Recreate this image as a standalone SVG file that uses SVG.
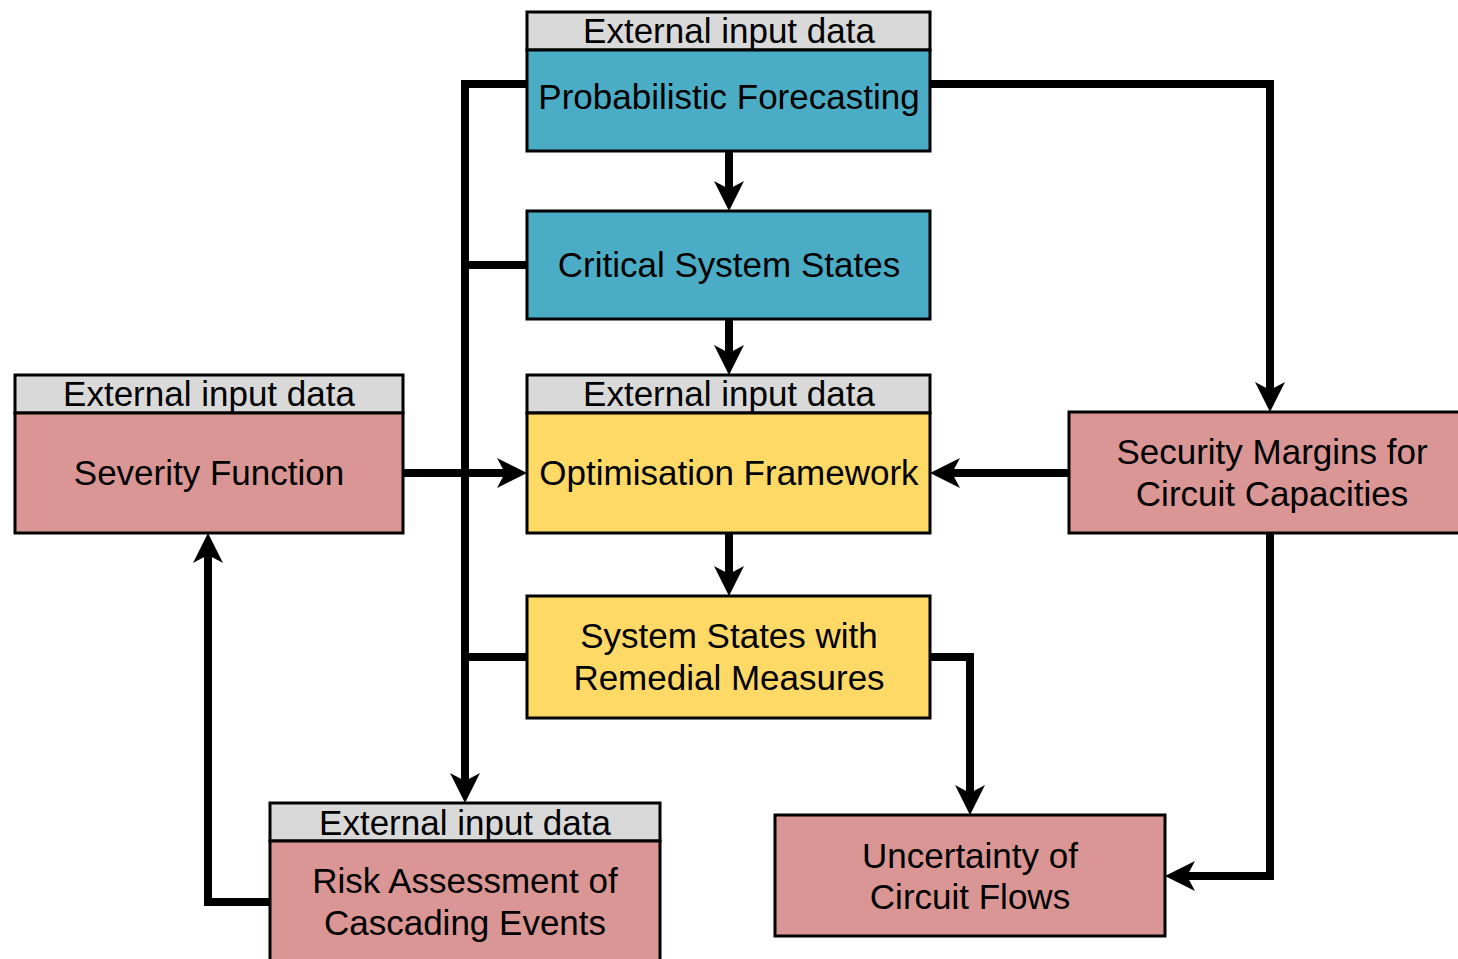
<svg xmlns="http://www.w3.org/2000/svg" width="1458" height="959" viewBox="0 0 1458 959">
  <style>
    .box { stroke: #000; stroke-width: 3; }
    .hdr { fill: #d9d9d9; }
    .blue { fill: #4bacc6; }
    .yellow { fill: #ffd966; }
    .red { fill: #d99694; }
    text { font-family: "Liberation Sans", Arial, sans-serif; font-size: 35px; fill: #000; text-anchor: middle; }
    .wire { fill: none; stroke: #000; stroke-width: 8; stroke-linejoin: miter; stroke-linecap: butt; }
  </style>
  <defs>
    <marker id="arrow" viewBox="0 -15 30 30" markerWidth="30" markerHeight="30" refX="8" refY="0" orient="auto" markerUnits="userSpaceOnUse">
      <path d="M0,-15 L30,0 L0,15 L8,0 Z" fill="#000"/>
    </marker>
  </defs>
  <rect width="1458" height="959" fill="#fff"/>

  <!-- connectors -->
  <g id="connectors">
    <!-- left trunk from forecasting down to risk assessment -->
    <path class="wire" d="M527,84 H465 V781" marker-end="url(#arrow)"/>
    <path class="wire" d="M465,265 H527"/>
    <path class="wire" d="M465,657 H527"/>
    <!-- forecasting to security margins -->
    <path class="wire" d="M930,84 H1270 V390" marker-end="url(#arrow)"/>
    <!-- central chain -->
    <path class="wire" d="M729,151 V189" marker-end="url(#arrow)"/>
    <path class="wire" d="M729,319 V353" marker-end="url(#arrow)"/>
    <path class="wire" d="M729,533 V574" marker-end="url(#arrow)"/>
    <!-- inputs to optimisation -->
    <path class="wire" d="M403,473 H505" marker-end="url(#arrow)"/>
    <path class="wire" d="M1069,473 H952" marker-end="url(#arrow)"/>
    <!-- remedial measures to flow uncertainty -->
    <path class="wire" d="M930,657 H970 V793" marker-end="url(#arrow)"/>
    <!-- security margins to flow uncertainty -->
    <path class="wire" d="M1270,533 V876 H1187" marker-end="url(#arrow)"/>
    <!-- risk assessment back to severity -->
    <path class="wire" d="M270,902 H208 V555" marker-end="url(#arrow)"/>
  </g>

  <!-- Probabilistic Forecasting -->
  <g id="forecasting">
    <rect class="box hdr" x="527" y="12" width="403" height="38"/>
    <rect class="box blue" x="527" y="50" width="403" height="101"/>
    <text x="729" y="43">External input data</text>
    <text x="729" y="109">Probabilistic Forecasting</text>
  </g>

  <!-- Critical System States -->
  <g id="critical-states">
    <rect class="box blue" x="527" y="211" width="403" height="108"/>
    <text x="729" y="277">Critical System States</text>
  </g>

  <!-- Optimisation Framework -->
  <g id="optimisation">
    <rect class="box hdr" x="527" y="375" width="403" height="38"/>
    <rect class="box yellow" x="527" y="413" width="403" height="120"/>
    <text x="729" y="406">External input data</text>
    <text x="729" y="485">Optimisation Framework</text>
  </g>

  <!-- System States with Remedial Measures -->
  <g id="remedial-states">
    <rect class="box yellow" x="527" y="596" width="403" height="122"/>
    <text x="729" y="648">System States with</text>
    <text x="729" y="690">Remedial Measures</text>
  </g>

  <!-- Severity Function -->
  <g id="severity">
    <rect class="box hdr" x="15" y="375" width="388" height="38"/>
    <rect class="box red" x="15" y="413" width="388" height="120"/>
    <text x="209" y="406">External input data</text>
    <text x="209" y="485">Severity Function</text>
  </g>

  <!-- Security Margins for Circuit Capacities -->
  <g id="security-margins">
    <rect class="box red" x="1069" y="412" width="406" height="121"/>
    <text x="1272" y="464">Security Margins for</text>
    <text x="1272" y="506">Circuit Capacities</text>
  </g>

  <!-- Uncertainty of Circuit Flows -->
  <g id="flow-uncertainty">
    <rect class="box red" x="775" y="815" width="390" height="121"/>
    <text x="970" y="868">Uncertainty of</text>
    <text x="970" y="909">Circuit Flows</text>
  </g>

  <!-- Risk Assessment of Cascading Events -->
  <g id="risk-assessment">
    <rect class="box hdr" x="270" y="803" width="390" height="38"/>
    <rect class="box red" x="270" y="841" width="390" height="130"/>
    <text x="465" y="835">External input data</text>
    <text x="465" y="893">Risk Assessment of</text>
    <text x="465" y="935">Cascading Events</text>
  </g>
</svg>
